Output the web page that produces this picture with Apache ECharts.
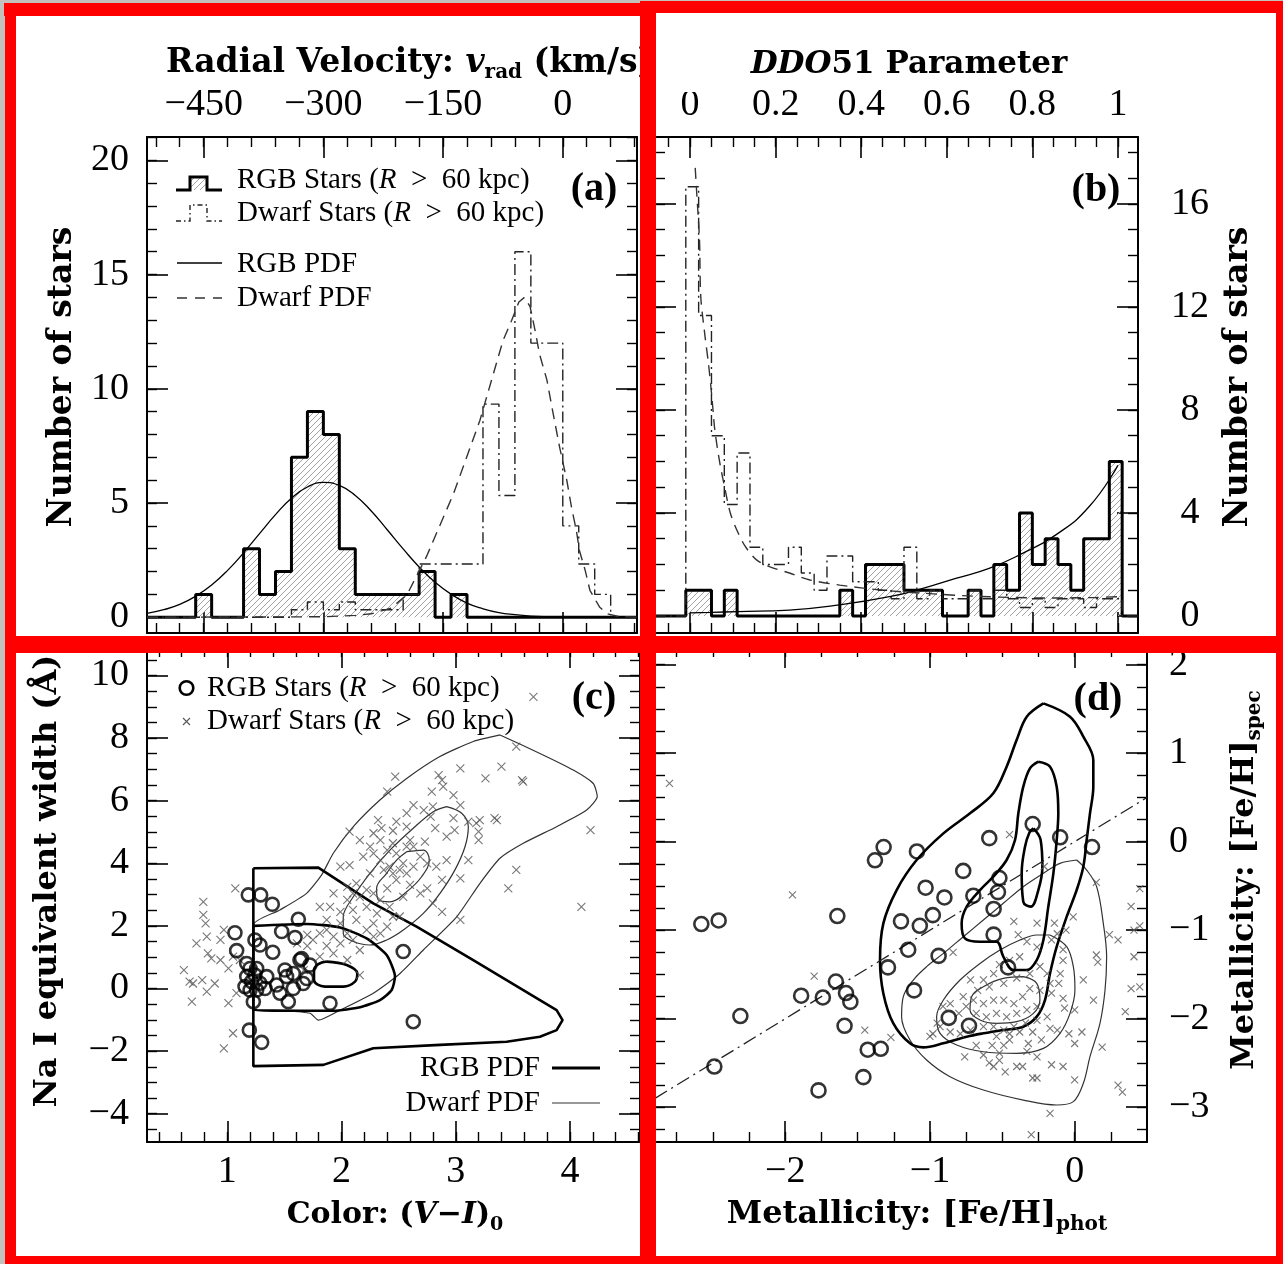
<!DOCTYPE html>
<html>
<head>
<meta charset="utf-8">
<script src="https://cdn.jsdelivr.net/npm/echarts@6.0.0/dist/echarts.min.js"></script>
<style>
  html, body { margin: 0; padding: 0; background: #fff; }
  #chart { width: 1283px; height: 1264px; }
</style>
</head>
<body>
<div id="chart"></div>
<script>
// ---------------- (a) radial velocity histograms (bin lower edges, 20 km/s bins) ----------------
const velBinStarts = [-460,-440,-420,-400,-380,-360,-340,-320,-300,-280,-260,-240,-220,-200,-180,-160,-140,-120,-100,-80,-60,-40,-20,0,20,40];
const velBinWidth = 20;
const rgbVelCounts   = [1,0,0,3,1,2,7,9,8,3,1,1,1,1,2,0,1,0,0,0,0,0,0,0,0,0];
const dwarfVelCounts = [0,0,0,0,0,0,0.33,0.67,0.33,0.67,0.33,0.33,0.33,1,2.33,2.33,2.33,2.33,9.33,5.33,16,12,12,4,2.33,1];
const rgbVelPdf = [[-521,0.17],[-500,0.33],[-480,0.56],[-460,0.92],[-440,1.41],[-420,2.05],[-400,2.82],[-380,3.66],[-360,4.49],[-340,5.21],[-320,5.70],[-300,5.90],[-280,5.77],[-260,5.33],[-240,4.65],[-220,3.83],[-200,2.99],[-180,2.20],[-160,1.53],[-140,1.01],[-120,0.62],[-100,0.37],[-80,0.20],[-60,0.11],[-40,0.05],[-20,0.02],[0,0.01],[93,0]];
const dwarfVelPdf = [[-521,0],[-300,0.02],[-260,0.08],[-240,0.15],[-215,0.4],[-195,1.0],[-171,2.64],[-137,5.4],[-104,8.6],[-75,12.1],[-64,13.0],[-55,13.8],[-48,14.0],[-41,13.6],[-35,12.6],[-29,11.5],[-20,10.4],[-12,8.9],[-4,7.45],[5,6.0],[11,4.8],[17,3.8],[21,2.9],[28,2.06],[34,1.18],[46,0.45],[55,0.16],[70,0.03],[93,0]];
const velTicks = [-450,-300,-150,0];
const countTicksA = [0,5,10,15,20];

// ---------------- (b) DDO51 parameter histograms (bin lower edges, 0.03 bins) ----------------
const ddoBinStarts = [-0.01,0.02,0.05,0.08,0.11,0.14,0.17,0.2,0.23,0.26,0.29,0.32,0.35,0.38,0.41,0.44,0.47,0.5,0.53,0.56,0.59,0.62,0.65,0.68,0.71,0.74,0.77,0.8,0.83,0.86,0.89,0.92,0.95,0.98];
const ddoBinWidth = 0.03;
const rgbDdoCounts   = [1,1,0,1,0,0,0,0,0,0,0,0,1,0,2,2,2,1,1,1,0,0,1,0,2,1,4,2,3,2,1,3,3,6];
const dwarfDdoCounts = [16.67,11.67,7,4.33,6.33,2.67,2,2,2.67,1.67,1,2.33,2.33,1.33,1.33,1,0.67,2.67,0.67,1,0.67,0.67,1,0.67,1,0.67,0.33,0.67,0.33,0.67,0.67,0.33,0.67,0.67];
const rgbDdoPdf = [[0,0.12],[0.05,0.14],[0.111,0.17],[0.232,0.23],[0.349,0.43],[0.466,0.75],[0.544,1.07],[0.621,1.46],[0.699,1.85],[0.777,2.43],[0.855,3.15],[0.933,4.25],[1.0,5.85]];
const dwarfDdoPdf = [[0.012,17.4],[0.016,16.3],[0.022,14.6],[0.025,12.4],[0.035,10.85],[0.043,9.8],[0.051,8.5],[0.058,7.2],[0.07,5.9],[0.082,4.9],[0.094,4.0],[0.109,3.35],[0.129,2.7],[0.156,2.17],[0.187,1.91],[0.234,1.66],[0.28,1.4],[0.35,1.2],[0.45,1.0],[0.55,0.88],[0.65,0.78],[0.75,0.72],[0.85,0.7],[0.95,0.72],[1.0,0.75]];
const ddoTicks = [0,0.2,0.4,0.6,0.8,1];
const countTicksB = [0,4,8,12,16];

// ---------------- (c) Na I equivalent width vs (V-I)0 ----------------
const rgbColorNa = [[1.184,2.99],[1.292,2.99],[1.394,2.69],[1.622,2.21],[1.067,1.78],[1.476,1.82],[1.593,1.63],[1.242,1.55],[1.082,1.21],[1.398,1.16],[1.199,0.64],[1.257,0.64],[1.65,0.96],[1.723,0.75],[1.505,0.59],[1.578,0.48],[1.695,0.32],[1.17,0.38],[1.213,0.22],[1.345,0.38],[1.286,0.17],[1.199,-0.05],[1.257,-0.05],[1.33,0],[1.461,-0.15],[1.578,0],[1.534,-0.42],[1.228,-0.42],[1.899,-0.47],[2.54,1.18],[2.628,-1.06],[1.193,-1.33],[1.301,-1.72],[1.17,0.8],[1.432,0.11],[1.665,0.16],[1.242,0.43],[1.155,0.06],[1.519,0.38],[1.636,0.91],[1.286,1.39]];
const dwarfColorNa = [[3.68,9.32],[3.53,7.73],[2.47,6.77],[2.85,6.82],[3.04,7.03],[3.4,7.09],[3.26,6.71],[3.58,6.66],[3.59,6.61],[2.88,6.66],[2.79,6.29],[2.4,6.29],[2.98,6.18],[2.63,5.86],[2.72,5.7],[3.04,5.86],[3.34,5.44],[3.21,5.38],[3.11,5.33],[2.32,5.38],[2.07,5.01],[2.35,5.12],[2.45,5.04],[2.57,5.17],[2.82,5.12],[2.98,5.44],[2.92,4.85],[2.99,5.06],[3.2,5.01],[3.2,4.74],[4.18,5.06],[2.73,4.69],[2.6,4.74],[2.25,4.53],[2.19,4.21],[1.99,3.89],[2.07,3.94],[2.28,4.32],[2.4,4.42],[2.48,4.32],[2.63,4.53],[2.54,4],[2.75,4],[2.83,3.89],[2.92,4.1],[3.11,4.1],[3.53,3.79],[3.04,3.52],[2.88,3.47],[2.75,3.2],[3.46,3.2],[2.57,3.68],[2.45,3.68],[2.37,3.79],[2.25,3.68],[2.13,3.36],[2.05,3.25],[1.93,3.04],[2.05,2.83],[2.16,2.93],[2.28,3.04],[2.4,3.2],[2.48,3.47],[2.6,3.31],[1.9,2.61],[1.81,2.61],[1.99,2.45],[2.1,2.51],[2.22,2.61],[2.31,2.4],[2.42,2.61],[2.54,2.93],[2.51,2.3],[2.8,2.72],[2.88,2.45],[3.04,2.19],[4.1,2.61],[1.87,2.19],[1.99,2.08],[2.13,2.19],[2.28,2.08],[2.4,1.98],[2.45,2.3],[2.05,1.76],[1.93,1.66],[1.81,1.76],[1.75,1.55],[1.7,1.71],[2.1,1.55],[2.22,1.87],[2.34,1.76],[1.99,1.44],[1.87,1.36],[1.7,1.36],[1.61,1.44],[1.81,1.02],[1.93,1.12],[2.28,1.66],[0.79,2.77],[0.79,2.35],[0.81,2.08],[0.82,1.66],[0.73,1.44],[0.97,1.87],[0.83,1.12],[0.86,0.96],[0.94,0.91],[1.05,1.02],[0.62,0.59],[1.01,0.64],[0.67,0.22],[0.7,0.16],[0.78,0.27],[0.89,0.16],[0.82,-0.1],[0.69,-0.42],[1.01,-0.47],[1.08,-0.15],[1.05,-1.43],[0.97,-1.91],[1.07,3.2],[0.94,1.55],[1.11,0.91],[2.34,4.1],[2.42,3.89],[2.51,3.79],[2.63,3.89],[2.69,4.21],[2.57,4.53],[2.45,4.64],[2.34,4.74],[2.16,4.74],[2.28,4.96],[2.48,5.33],[2.57,5.6],[2.78,5.49],[2.8,5.81],[2.69,3.04],[2.34,2.83],[2.22,3.15],[2.1,3.04],[1.87,1.87],[2.16,1.23],[2.05,0.91],[2.16,0.43],[1.67,0.59],[3.18,5.28],[3.36,5.38],[2.89,6.45]];
const naRgbOuter = [[1.228,3.84],[1.797,3.86],[2.278,2.72],[2.657,1.98],[3.153,0.91],[3.445,0.27],[3.737,-0.37],[3.883,-0.69],[3.935,-1.01],[3.883,-1.33],[3.737,-1.54],[3.445,-1.7],[2.862,-1.8],[2.278,-1.91],[1.841,-2.44],[1.228,-2.48],[1.228,3.84]];
const naRgbMid = [[1.228,2.0],[1.695,2.06],[1.987,1.95],[2.22,1.6],[2.395,1.07],[2.468,0.38],[2.439,-0.05],[2.337,-0.37],[2.162,-0.6],[1.928,-0.71],[1.636,-0.71],[1.228,-0.69],[1.228,2.0]];
const naRgbInner = [[1.87,0.86],[2.045,0.75],[2.138,0.48],[2.118,0.22],[2.015,0.06],[1.855,0.06],[1.759,0.27],[1.759,0.59],[1.797,0.78],[1.87,0.86]];
const naDwarfOuter = [[3.387,8.1],[3.737,7.51],[4.029,6.98],[4.204,6.55],[4.239,6.13],[4.146,5.7],[3.883,5.17],[3.591,4.64],[3.387,4.16],[3.212,3.36],[3.008,2.29],[2.716,1.23],[2.512,0.48],[2.278,-0.15],[1.987,-0.69],[1.797,-1.01],[1.724,-0.79],[1.461,-0.71],[1.228,-0.67],[1.228,2.03],[1.461,2.51],[1.694,3.04],[1.826,3.63],[1.928,4.32],[2.103,5.17],[2.336,6.02],[2.57,6.71],[2.861,7.41],[3.153,7.89],[3.387,8.1]];
const naDwarfMid = [[2.92,5.81],[3.052,5.6],[3.11,5.17],[3.081,4.53],[2.993,3.79],[2.862,3.04],[2.716,2.4],[2.541,1.87],[2.395,1.55],[2.249,1.39],[2.103,1.5],[2.015,1.76],[2.015,2.29],[2.103,2.93],[2.249,3.68],[2.424,4.42],[2.628,5.12],[2.803,5.65],[2.92,5.81]];
const naDwarfInner = [[2.57,4.37],[2.716,4.42],[2.768,4.1],[2.701,3.57],[2.57,3.09],[2.424,2.77],[2.322,2.83],[2.307,3.2],[2.395,3.68],[2.482,4.1],[2.57,4.37]];
const colorTicks = [1,2,3,4];
const naTicks = [-4,-2,0,2,4,6,8,10];

// ---------------- (d) spectroscopic vs photometric metallicity ----------------
const rgbFeH = [[-2.58,-0.93],[-2.46,-0.89],[-2.31,-1.97],[-2.49,-2.54],[-1.89,-1.74],[-1.74,-1.76],[-1.64,-0.84],[-1.65,-1.58],[-1.58,-1.71],[-1.55,-1.81],[-1.59,-2.08],[-1.43,-2.35],[-1.34,-2.34],[-1.46,-2.66],[-1.77,-2.81],[-1.38,-0.21],[-1.32,-0.06],[-1.09,-0.11],[-1.29,-1.42],[-1.2,-0.9],[-1.15,-1.22],[-1.07,-0.95],[-1.03,-0.52],[-0.98,-0.83],[-0.9,-0.63],[-0.94,-1.29],[-1.11,-1.68],[-0.77,-0.33],[-0.7,-0.61],[-0.59,0.04],[-0.29,0.2],[-0.1,0.05],[0.12,-0.06],[-0.52,-0.41],[-0.53,-0.57],[-0.56,-0.76],[-0.56,-1.05],[-0.46,-1.42],[-0.87,-1.99],[-0.73,-2.08]];
const dwarfFeH = [[-2.8,0.66],[-1.95,-0.6],[-1.8,-1.52],[-1.45,-2.13],[-1.27,-2.21],[-0.84,-1.25],[-0.45,0.08],[-0.21,-0.28],[0.15,-0.46],[0.45,-0.53],[0.39,-0.73],[0.45,-0.95],[0.41,-1],[0.3,-1.11],[0.24,-1.05],[0.15,-1.28],[0.16,-1.36],[0.41,-1.3],[0.39,-1.66],[0.45,-1.64],[0.35,-1.92],[0.3,-2.75],[0.33,-2.83],[0.19,-2.32],[0,-2.69],[-0.08,-2.54],[-0.16,-2.52],[-0.17,-3.07],[-0.3,-3.31],[-0.29,-2.67],[-0.26,-2.67],[-0.36,-2.54],[-0.4,-2.54],[-0.48,-2.6],[-0.56,-2.54],[-0.59,-2.5],[-0.52,-2.39],[-0.63,-2.41],[-0.76,-2.43],[-0.68,-2.3],[-0.57,-2.3],[-0.49,-2.3],[-0.45,-2.24],[-0.32,-2.28],[-0.23,-2.24],[-0.17,-2.11],[-0.12,-2.13],[-0.04,-2.17],[0.05,-2.15],[0,-2.28],[0.13,-1.79],[0.06,-1.56],[0,-1.9],[-0.07,-1.88],[-0.08,-1.77],[-0.16,-1.71],[-0.11,-1.6],[-0.1,-1.49],[-0.08,-1.34],[-0.08,-1.22],[-0.16,-1.11],[-0.12,-1.04],[-0.06,-1],[-0.01,-0.85],[-0.14,-0.92],[-0.26,-0.92],[-0.42,-0.9],[-0.39,-1.05],[-0.33,-1.13],[-0.26,-1.19],[-0.38,-1.3],[-0.45,-1.34],[-0.52,-1.39],[-0.56,-1.49],[-0.63,-1.56],[-0.72,-1.56],[-0.67,-1.68],[-0.59,-1.64],[-0.49,-1.6],[-0.4,-1.54],[-0.31,-1.49],[-0.24,-1.41],[-0.19,-1.49],[-0.17,-1.6],[-0.24,-1.68],[-0.31,-1.66],[-0.36,-1.75],[-0.42,-1.83],[-0.49,-1.79],[-0.56,-1.79],[-0.63,-1.83],[-0.7,-1.79],[-0.77,-1.75],[-0.75,-1.86],[-0.68,-1.94],[-0.61,-1.98],[-0.54,-1.94],[-0.47,-1.98],[-0.4,-1.94],[-0.33,-1.9],[-0.26,-1.86],[-0.19,-1.98],[-0.26,-2.02],[-0.34,-2.05],[-0.42,-2.09],[-0.49,-2.13],[-0.56,-2.09],[-0.63,-2.09],[-0.72,-2.13],[-0.79,-2.17],[-0.86,-2.15],[-0.93,-2.09],[-0.98,-2.17],[-1,-2.2],[-0.91,-1.86],[-0.86,-1.83],[-0.8,-1.94],[-0.95,-2.05],[-0.54,-2.2],[-0.45,-2.17],[-0.38,-2.15],[-0.29,-2.15],[-0.52,-2.47],[-0.33,-2.37],[-0.26,-2.43]];
const fehRgbOuter = [[-0.216,1.563],[-0.032,1.413],[0.06,1.187],[0.129,0.923],[0.129,0.622],[0.106,0.321],[0.083,0.019],[0.06,-0.282],[0.014,-0.546],[-0.055,-0.847],[-0.124,-1.186],[-0.17,-1.487],[-0.205,-1.789],[-0.262,-1.977],[-0.355,-2.09],[-0.493,-2.128],[-0.631,-2.165],[-0.746,-2.203],[-0.908,-2.278],[-1.046,-2.324],[-1.138,-2.278],[-1.253,-2.053],[-1.322,-1.714],[-1.345,-1.337],[-1.322,-0.923],[-1.23,-0.546],[-1.092,-0.207],[-0.907,0.094],[-0.723,0.321],[-0.562,0.547],[-0.47,0.848],[-0.401,1.149],[-0.331,1.413],[-0.216,1.563]];
const fehRgbMid = [[-0.251,0.904],[-0.17,0.848],[-0.124,0.622],[-0.113,0.321],[-0.124,0.019],[-0.147,-0.358],[-0.182,-0.734],[-0.216,-1.111],[-0.262,-1.337],[-0.332,-1.45],[-0.424,-1.45],[-0.493,-1.299],[-0.539,-1.13],[-0.654,-1.13],[-0.758,-1.092],[-0.781,-0.923],[-0.746,-0.734],[-0.654,-0.546],[-0.562,-0.395],[-0.47,-0.207],[-0.412,0.019],[-0.389,0.321],[-0.355,0.622],[-0.309,0.829],[-0.251,0.904]];
const fehRgbInner = [[-0.285,0.151],[-0.235,0.019],[-0.223,-0.282],[-0.251,-0.546],[-0.304,-0.734],[-0.355,-0.678],[-0.366,-0.358],[-0.343,-0.056],[-0.313,0.102],[-0.285,0.151]];
const fehDwarfOuter = [[0.014,-0.207],[0.083,-0.32],[0.152,-0.508],[0.198,-0.923],[0.221,-1.299],[0.21,-1.676],[0.175,-2.053],[0.106,-2.429],[0.06,-2.73],[-0.009,-2.937],[-0.124,-2.975],[-0.355,-2.919],[-0.631,-2.806],[-0.861,-2.655],[-1.023,-2.467],[-1.138,-2.241],[-1.196,-1.977],[-1.184,-1.751],[-1.115,-1.563],[-1.023,-1.412],[-0.907,-1.262],[-0.769,-1.073],[-0.631,-0.885],[-0.493,-0.696],[-0.355,-0.508],[-0.216,-0.357],[-0.101,-0.245],[0.014,-0.207]];
const fehDwarfMid = [[-0.17,-1.054],[-0.055,-1.186],[-0.009,-1.412],[0.002,-1.676],[-0.032,-1.94],[-0.101,-2.165],[-0.216,-2.335],[-0.401,-2.391],[-0.631,-2.373],[-0.815,-2.297],[-0.93,-2.165],[-0.954,-1.977],[-0.907,-1.789],[-0.792,-1.563],[-0.654,-1.375],[-0.516,-1.224],[-0.378,-1.111],[-0.262,-1.054],[-0.17,-1.054]];
const fehDwarfInner = [[-0.355,-1.525],[-0.262,-1.6],[-0.24,-1.789],[-0.285,-1.94],[-0.401,-2.033],[-0.539,-2.052],[-0.654,-2.015],[-0.723,-1.902],[-0.712,-1.751],[-0.631,-1.638],[-0.493,-1.544],[-0.355,-1.525]];
const oneToOneLine = [[-2.9,-2.9],[0.5,0.5]];
const fehPhotTicks = [-2,-1,0];
const fehSpecTicks = [-3,-2,-1,0,1,2];

// ---------------- helpers ----------------
function range(a, b, step) {
  const out = [];
  for (let v = a; v <= b + 1e-9; v += step) out.push(+v.toFixed(4));
  return out;
}
const fmt = v => String(v).replace('-', '\u2212');

// diagonal hatch used inside the RGB histograms
function hatchCanvas() {
  const c = document.createElement('canvas');
  c.width = c.height = 6;
  const g = c.getContext('2d');
  g.strokeStyle = '#a2a2a2';
  g.lineWidth = 1;
  g.beginPath();
  g.moveTo(0, 6); g.lineTo(6, 0);
  g.moveTo(-1, 1); g.lineTo(1, -1);
  g.moveTo(5, 7); g.lineTo(7, 5);
  g.stroke();
  return c;
}
const HATCH = { image: hatchCanvas(), repeat: 'repeat' };

// histogram outline as a stepped polyline, padded to the axis limits
function stepData(starts, width, counts, xmin, xmax) {
  const pts = [[xmin, 0]];
  starts.forEach((s, i) => pts.push([s, counts[i]]));
  pts.push([+(starts[starts.length - 1] + width).toFixed(4), 0]);
  pts.push([xmax, 0]);
  return pts;
}

// four framed sides: a major-tick axis and a minor-tick axis on each side
function axisSet(dim, grid, min, max, major, minor, lab) {
  const sides = dim === 'x' ? ['bottom', 'top'] : ['left', 'right'];
  const out = [];
  sides.forEach(side => {
    const label = (lab && lab.side === side)
      ? Object.assign({ show: true, customValues: major, margin: lab.margin, formatter: fmt,
          fontFamily: '"Liberation Serif", serif', fontSize: 38, color: '#000' }, lab.align ? { align: lab.align } : {})
      : { show: false };
    out.push({
      type: 'value', gridIndex: grid, position: side, min, max,
      axisLine: { show: true, onZero: false, lineStyle: { color: '#000', width: 2 } },
      axisTick: { show: true, inside: true, length: 21, customValues: major, lineStyle: { color: '#000', width: 1.6 } },
      axisLabel: label, splitLine: { show: false }
    });
  });
  sides.forEach(side => out.push({
    type: 'value', gridIndex: grid, position: side, min, max,
    axisLine: { show: false, onZero: false },
    axisTick: { show: true, inside: true, length: 10, customValues: minor, lineStyle: { color: '#000', width: 1.4 } },
    axisLabel: { show: false }, splitLine: { show: false }
  }));
  return out;
}

function lineS(grid, data, o) {
  return {
    type: 'line', xAxisIndex: 4 * grid, yAxisIndex: 4 * grid, data, symbol: 'none', silent: true,
    smooth: o.smooth || false, step: o.step || false, z: o.z || 3,
    lineStyle: { color: o.color || '#000', width: o.width || 1.2, type: o.dash || 'solid' },
    areaStyle: o.area ? { color: o.area, opacity: 1, origin: 0 } : undefined
  };
}
function circleS(grid, data, size) {
  return { type: 'scatter', xAxisIndex: 4 * grid, yAxisIndex: 4 * grid, data, symbol: 'circle', symbolSize: size,
    silent: true, z: 6, itemStyle: { color: 'rgba(0,0,0,0)', borderColor: '#000', borderWidth: 2.6 } };
}
function crossS(grid, data, size) {
  return { type: 'scatter', xAxisIndex: 4 * grid, yAxisIndex: 4 * grid, data, symbol: 'path://M0,0L10,10M10,0L0,10',
    symbolSize: size, silent: true, z: 4, itemStyle: { color: 'rgba(0,0,0,0)', borderColor: '#555', borderWidth: 1.1 } };
}

// text made of differently styled runs (italics, subscripts), optionally rotated
const measure = document.createElement('canvas').getContext('2d');
function textRun(x, y, segs, opt) {
  const widths = segs.map(s => { measure.font = s[1]; return measure.measureText(s[0]).width; });
  const total = widths.reduce((a, b) => a + b, 0);
  let cx = opt.align === 'center' ? -total / 2 : (opt.align === 'right' ? -total : 0);
  const children = segs.map((s, i) => {
    const el = { type: 'text', x: cx, y: s[2] || 0, z: 50,
      style: { text: s[0], font: s[1], fill: opt.fill || '#000', align: 'left', verticalAlign: 'middle' } };
    cx += widths[i];
    return el;
  });
  return { type: 'group', x, y, rotation: opt.rotation || 0, z: 50, children };
}

const tf = (px, style) => (style || '') + ' bold ' + px + 'px "DejaVu Serif"';
const L  = '29px "Liberation Serif"';
const LI = 'italic 29px "Liberation Serif"';
const TAG = 'bold 40px "Liberation Serif"';
const GT = '\u2002>\u2002';
const DASHDOT = [11, 4, 2, 4];

// ---------------- axes ----------------
const VEL = [-521, 93], CNT_A = [-0.69, 21.02];
const DDO = [-0.082, 1.047], CNT_B = [-0.66, 18.6];
const COL = [0.297, 4.613], NA = [-4.904, 10.91];
const PHOT = [-2.9, 0.5], SPEC = [-3.393, 2.2];

const xAxes = [].concat(
  axisSet('x', 0, VEL[0], VEL[1], velTicks, range(-510, 90, 30), { side: 'top', margin: 13 }),
  axisSet('x', 1, DDO[0], DDO[1], ddoTicks, range(-0.05, 1.0, 0.05), { side: 'top', margin: 13 }),
  axisSet('x', 2, COL[0], COL[1], colorTicks, range(0.4, 4.6, 0.2), { side: 'bottom', margin: 11 }),
  axisSet('x', 3, PHOT[0], PHOT[1], fehPhotTicks, range(-2.75, 0.25, 0.25), { side: 'bottom', margin: 11 })
);
const yAxes = [].concat(
  axisSet('y', 0, CNT_A[0], CNT_A[1], countTicksA, range(0, 21, 1), { side: 'left', margin: 18 }),
  axisSet('y', 1, CNT_B[0], CNT_B[1], countTicksB, range(0, 18, 1), { side: 'right', margin: 52, align: 'center' }),
  axisSet('y', 2, NA[0], NA[1], naTicks, range(-4.5, 10.5, 0.5), { side: 'left', margin: 18 }),
  axisSet('y', 3, SPEC[0], SPEC[1], fehSpecTicks, range(-3.25, 2.0, 0.25), { side: 'right', margin: 22, align: 'left' })
);

// ---------------- series ----------------
const series = [
  // (a)
  lineS(0, stepData(velBinStarts, velBinWidth, rgbVelCounts, VEL[0], VEL[1]), { step: 'end', width: 3, area: HATCH, z: 3 }),
  lineS(0, stepData(velBinStarts, velBinWidth, dwarfVelCounts, VEL[0], VEL[1]), { step: 'end', width: 1.4, color: '#222', dash: DASHDOT, z: 4 }),
  lineS(0, rgbVelPdf, { smooth: true, width: 1.3, z: 5 }),
  lineS(0, dwarfVelPdf, { width: 1.4, color: '#333', dash: [11, 7], z: 5 }),
  // (b)
  lineS(1, stepData(ddoBinStarts, ddoBinWidth, rgbDdoCounts, DDO[0], DDO[1]), { step: 'end', width: 3, area: HATCH, z: 3 }),
  lineS(1, stepData(ddoBinStarts, ddoBinWidth, dwarfDdoCounts, DDO[0], DDO[1]), { step: 'end', width: 1.4, color: '#222', dash: DASHDOT, z: 4 }),
  lineS(1, rgbDdoPdf, { smooth: true, width: 1.3, z: 5 }),
  lineS(1, dwarfDdoPdf, { smooth: 0.3, width: 1.4, color: '#333', dash: [11, 7], z: 5 }),
  // (c)
  crossS(2, dwarfColorNa, 8),
  lineS(2, naDwarfOuter, { smooth: 0.2, width: 1.2, color: '#333' }),
  lineS(2, naDwarfMid, { smooth: 0.35, width: 1.2, color: '#333' }),
  lineS(2, naDwarfInner, { smooth: 0.4, width: 1.2, color: '#333' }),
  lineS(2, naRgbOuter, { width: 2.6 }),
  lineS(2, naRgbMid, { smooth: 0.2, width: 2.6 }),
  lineS(2, naRgbInner, { smooth: 0.4, width: 2.6 }),
  circleS(2, rgbColorNa, 13),
  // (d)
  crossS(3, dwarfFeH, 7),
  lineS(3, fehDwarfOuter, { smooth: 0.35, width: 1.2, color: '#333' }),
  lineS(3, fehDwarfMid, { smooth: 0.35, width: 1.2, color: '#333' }),
  lineS(3, fehDwarfInner, { smooth: 0.4, width: 1.2, color: '#333' }),
  lineS(3, fehRgbOuter, { smooth: 0.35, width: 2.6 }),
  lineS(3, fehRgbMid, { smooth: 0.35, width: 2.6 }),
  lineS(3, fehRgbInner, { smooth: 0.4, width: 2.6 }),
  lineS(3, oneToOneLine, { width: 1.3, color: '#222', dash: [14, 5, 2, 5] }),
  circleS(3, rgbFeH, 14)
];

// ---------------- titles, legends, panel tags, frames ----------------
const graphics = [
  textRun(166, 63, [['Radial Velocity: ', tf(33)], ['v', tf(33, 'italic')], ['rad', tf(20), 10], [' (km/s)', tf(33)]], { align: 'left' }),
  textRun(909, 65, [['DDO', tf(31, 'italic')], ['51 Parameter', tf(31)]], { align: 'center' }),
  textRun(62, 377, [['Number of stars', tf(33)]], { align: 'center', rotation: Math.PI / 2 }),
  textRun(1238, 377, [['Number of stars', tf(33)]], { align: 'center', rotation: Math.PI / 2 }),
  textRun(48, 881, [['Na I equivalent width (\u00C5)', tf(32)]], { align: 'center', rotation: Math.PI / 2 }),
  textRun(395, 1215, [['Color: (', tf(30)], ['V', tf(30, 'italic')], ['\u2212', tf(30)], ['I', tf(30, 'italic')], [')', tf(30)], ['0', tf(19), 10]], { align: 'center' }),
  textRun(917, 1215, [['Metallicity: [Fe/H]', tf(32)], ['phot', tf(20), 10]], { align: 'center' }),
  textRun(1245, 880, [['Metallicity: [Fe/H]', tf(32)], ['spec', tf(20), 10]], { align: 'center', rotation: Math.PI / 2 }),

  // panel tags
  textRun(594, 190, [['(a)', TAG]], { align: 'center' }),
  textRun(1096, 191, [['(b)', TAG]], { align: 'center' }),
  textRun(594, 699, [['(c)', TAG]], { align: 'center' }),
  textRun(1098, 700, [['(d)', TAG]], { align: 'center' }),

  // legend (a)
  { type: 'rect', z: 40, shape: { x: 190, y: 177, width: 17, height: 13 }, style: { fill: HATCH } },
  { type: 'polyline', z: 41, shape: { points: [[176, 190], [190, 190], [190, 177], [207, 177], [207, 190], [222, 190]] }, style: { stroke: '#000', lineWidth: 3, fill: null } },
  { type: 'polyline', z: 41, shape: { points: [[176, 221], [190, 221], [190, 205], [207, 205], [207, 221], [222, 221]] }, style: { stroke: '#222', lineWidth: 1.4, fill: null, lineDash: [5, 3, 1.5, 3] } },
  { type: 'line', z: 41, shape: { x1: 177, y1: 263, x2: 222, y2: 263 }, style: { stroke: '#000', lineWidth: 1.3 } },
  { type: 'line', z: 41, shape: { x1: 177, y1: 298, x2: 222, y2: 298 }, style: { stroke: '#333', lineWidth: 1.4, lineDash: [10, 8] } },
  textRun(237, 180, [['RGB Stars (', L], ['R', LI], [GT + '60 kpc)', L]], { align: 'left' }),
  textRun(237, 213, [['Dwarf Stars (', L], ['R', LI], [GT + '60 kpc)', L]], { align: 'left' }),
  textRun(237, 264, [['RGB PDF', L]], { align: 'left' }),
  textRun(237, 298, [['Dwarf PDF', L]], { align: 'left' }),

  // legend (c)
  { type: 'circle', z: 41, shape: { cx: 186.5, cy: 688, r: 6.8 }, style: { stroke: '#000', lineWidth: 2.6, fill: null } },
  { type: 'line', z: 41, shape: { x1: 183, y1: 718, x2: 190, y2: 725 }, style: { stroke: '#555', lineWidth: 1.1 } },
  { type: 'line', z: 41, shape: { x1: 190, y1: 718, x2: 183, y2: 725 }, style: { stroke: '#555', lineWidth: 1.1 } },
  textRun(207, 688, [['RGB Stars (', L], ['R', LI], [GT + '60 kpc)', L]], { align: 'left' }),
  textRun(207, 721, [['Dwarf Stars (', L], ['R', LI], [GT + '60 kpc)', L]], { align: 'left' }),
  textRun(540, 1068, [['RGB PDF', L]], { align: 'right' }),
  textRun(540, 1103, [['Dwarf PDF', L]], { align: 'right' }),
  { type: 'line', z: 41, shape: { x1: 552, y1: 1068, x2: 600, y2: 1068 }, style: { stroke: '#000', lineWidth: 2.8 } },
  { type: 'line', z: 41, shape: { x1: 552, y1: 1103, x2: 600, y2: 1103 }, style: { stroke: '#333', lineWidth: 1.2 } },

  // keep the clipped top-left title from spilling into the next panel
  { type: 'rect', z: 60, shape: { x: 656, y: 36, width: 90, height: 56 }, style: { fill: '#fff' } },

  // outer grey margin and red frames
  { type: 'rect', z: 99, shape: { x: 0, y: 0, width: 1283, height: 3 }, style: { fill: '#c4c0bc' } },
  { type: 'rect', z: 99, shape: { x: 0, y: 0, width: 5, height: 1264 }, style: { fill: '#c4c0bc' } },
  { type: 'rect', z: 100, shape: { x: 4, y: 3, width: 640, height: 13 }, style: { fill: '#ff0000' } },
  { type: 'rect', z: 100, shape: { x: 640, y: 1, width: 643, height: 12 }, style: { fill: '#ff0000' } },
  { type: 'rect', z: 100, shape: { x: 5, y: 3, width: 11, height: 1261 }, style: { fill: '#ff0000' } },
  { type: 'rect', z: 100, shape: { x: 640, y: 1, width: 16, height: 1263 }, style: { fill: '#ff0000' } },
  { type: 'rect', z: 100, shape: { x: 5, y: 636, width: 1278, height: 17 }, style: { fill: '#ff0000' } },
  { type: 'rect', z: 100, shape: { x: 1276, y: 1, width: 7, height: 1263 }, style: { fill: '#ff0000' } },
  { type: 'rect', z: 100, shape: { x: 5, y: 1256, width: 1278, height: 8 }, style: { fill: '#ff0000' } }
];

const chart = echarts.init(document.getElementById('chart'), null, { renderer: 'canvas' });
chart.setOption({
  animation: false,
  backgroundColor: '#fff',
  grid: [
    { left: 147, top: 137, width: 490, height: 496, outerBoundsMode: 'none', containLabel: false },
    { left: 655, top: 137, width: 483, height: 496, outerBoundsMode: 'none', containLabel: false },
    { left: 147, top: 647, width: 493, height: 495, outerBoundsMode: 'none', containLabel: false },
    { left: 655, top: 647, width: 492, height: 495, outerBoundsMode: 'none', containLabel: false }
  ],
  xAxis: xAxes,
  yAxis: yAxes,
  series,
  graphic: { elements: graphics }
});
</script>
</body>
</html>
